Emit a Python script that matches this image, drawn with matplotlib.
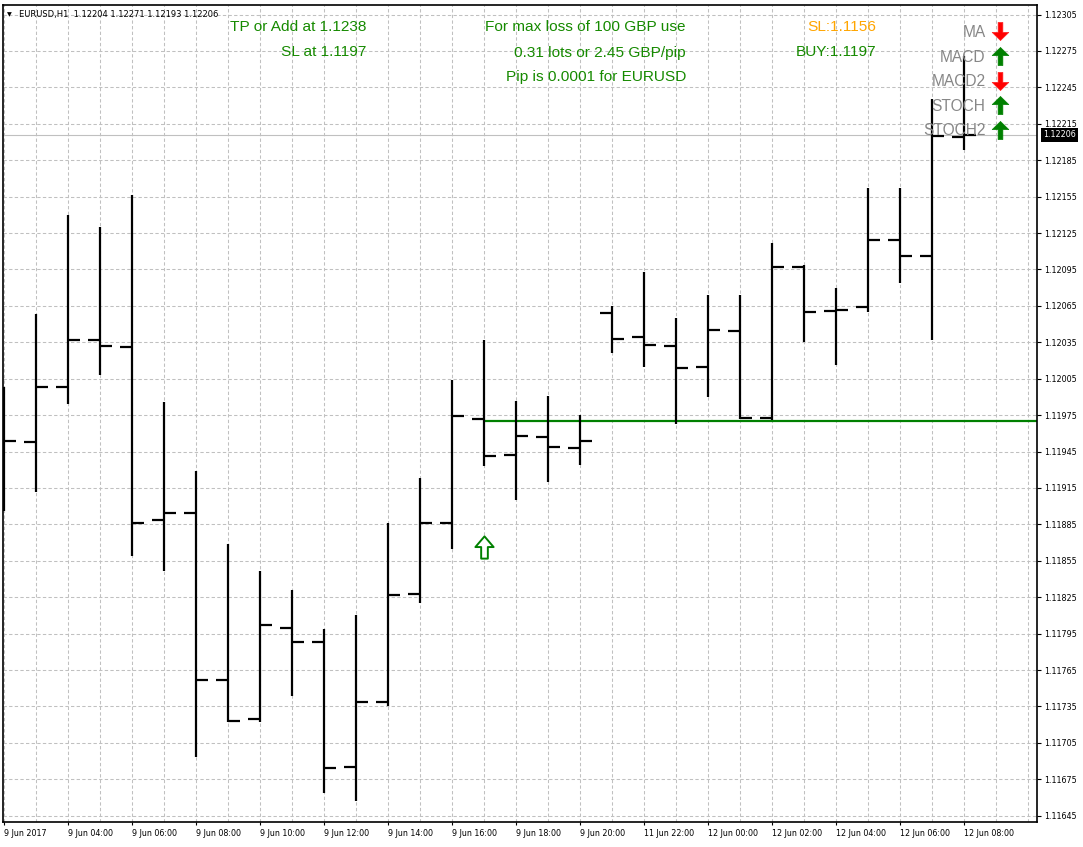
import matplotlib
matplotlib.use("Agg")
import matplotlib.pyplot as plt
import numpy as np
from matplotlib.path import Path
from matplotlib.lines import Line2D

# ---------------- data ----------------
symbol = "EURUSD,H1"
opens = [1.11960, 1.11953, 1.11998, 1.12037, 1.12031, 1.11889, 1.11894, 1.11757,
         1.11725, 1.11800, 1.11788, 1.11685, 1.11739, 1.11828, 1.11886, 1.11972,
         1.11942, 1.11957, 1.11948, 1.12059, 1.12039, 1.12032, 1.12015, 1.12044,
         1.11973, 1.12097, 1.12061, 1.12064, 1.12119, 1.12106, 1.12204]
highs = [1.11998, 1.12058, 1.12140, 1.12130, 1.12156, 1.11986, 1.11929, 1.11869,
         1.11847, 1.11831, 1.11799, 1.11810, 1.11886, 1.11923, 1.12004, 1.12037,
         1.11987, 1.11991, 1.11975, 1.12065, 1.12093, 1.12055, 1.12074, 1.12074,
         1.12117, 1.12099, 1.12080, 1.12162, 1.12162, 1.12235, 1.12271]
lows = [1.11896, 1.11912, 1.11984, 1.12008, 1.11859, 1.11847, 1.11693, 1.11722,
        1.11722, 1.11744, 1.11664, 1.11657, 1.11735, 1.11820, 1.11865, 1.11933,
        1.11905, 1.11920, 1.11934, 1.12026, 1.12015, 1.11968, 1.11990, 1.11972,
        1.11971, 1.12035, 1.12016, 1.12060, 1.12084, 1.12037, 1.12193]
closes = [1.11954, 1.11998, 1.12037, 1.12032, 1.11886, 1.11894, 1.11757, 1.11723,
          1.11802, 1.11788, 1.11684, 1.11739, 1.11827, 1.11886, 1.11974, 1.11941,
          1.11958, 1.11949, 1.11954, 1.12038, 1.12033, 1.12014, 1.12045, 1.11973,
          1.12097, 1.12060, 1.12062, 1.12119, 1.12106, 1.12205, 1.12206]

time_labels = ["9 Jun 2017", "9 Jun 04:00", "9 Jun 06:00", "9 Jun 08:00",
               "9 Jun 10:00", "9 Jun 12:00", "9 Jun 14:00", "9 Jun 16:00",
               "9 Jun 18:00", "9 Jun 20:00", "11 Jun 22:00", "12 Jun 00:00",
               "12 Jun 02:00", "12 Jun 04:00", "12 Jun 06:00", "12 Jun 08:00"]
time_label_bars = [0, 2, 4, 6, 8, 10, 12, 14, 16, 18, 20, 22, 24, 26, 28, 30]

price_ticks = [1.11645, 1.11675, 1.11705, 1.11735, 1.11765, 1.11795, 1.11825,
               1.11855, 1.11885, 1.11915, 1.11945, 1.11975, 1.12005, 1.12035,
               1.12065, 1.12095, 1.12125, 1.12155, 1.12185, 1.12215, 1.12245,
               1.12275, 1.12305]

sl_price = 1.1197
signal_bar = 15
signal_price = 1.11866
current_price = closes[-1]

info_left = ["TP or Add at 1.1238", "SL at 1.1197"]
info_mid = ["For max loss of 100 GBP use", "0.31 lots or 2.45 GBP/pip",
            "Pip is 0.0001 for EURUSD"]
info_right = [("SL:1.1156", "#FFA500"), ("BUY:1.1197", "#168a00")]
indicators = ["MA", "MACD", "MACD2", "STOCH", "STOCH2"]
indicator_up = [False, True, False, True, True]

# ---------------- layout helpers ----------------
W, H = 1083, 847
def fx(px):
    return px / W
def fy(py):
    return 1 - py / H

fig = plt.figure(figsize=(W / 100, H / 100), dpi=100)
fig.patch.set_facecolor("white")
ax = fig.add_axes([fx(3), fy(822), (1037 - 3) / W, (822 - 5) / H])
ax.set_facecolor("white")

x = np.arange(len(opens))
ax.set_xlim(-0.031, 32.28)
ax.set_ylim(1.1163985, 1.1231283)

grid_kw = dict(color="#c0c0c0", linestyle=(0, (3.2, 2.2)), linewidth=0.75)
ax.set_xticks(time_label_bars)
ax.set_xticks(np.arange(0, 33), minor=True)
ax.set_xticklabels(time_labels)
ax.grid(True, which="both", axis="x", **grid_kw)
ax.set_yticks(price_ticks)
ax.set_yticklabels([f"{v:.5f}" for v in price_ticks])
ax.grid(True, which="major", axis="y", **grid_kw)
ax.set_axisbelow(True)

ax.yaxis.tick_right()
ax.tick_params(axis="y", which="major", direction="out", length=3, width=0.8,
               pad=2, labelsize=5.8, colors="black")
ax.tick_params(axis="x", which="major", direction="out", length=2.5, width=0.8,
               pad=2.5, labelsize=5.8, colors="black")
ax.tick_params(axis="x", which="minor", length=0)
for lab in ax.get_xticklabels():
    lab.set_horizontalalignment("left")
for sp in ax.spines.values():
    sp.set_color("black")
    sp.set_linewidth(1.2)

# current price line
ax.axhline(current_price, color="#c0c0c0", linewidth=0.8, zorder=1)

# OHLC bars
tick_len = 0.375
ax.vlines(x, lows, highs, colors="black", linewidth=1.6, zorder=3)
ax.hlines(opens, x - tick_len, x, colors="black", linewidth=1.6, zorder=3)
ax.hlines(closes, x, x + tick_len, colors="black", linewidth=1.6, zorder=3)

# stop-loss line from the signal bar
ax.hlines(sl_price, signal_bar, ax.get_xlim()[1], colors="#008000",
          linewidth=1.6, zorder=2)

# hollow buy arrow
hollow = Path([(-0.15, -0.5), (0.15, -0.5), (0.15, 0.02), (0.41, 0.02),
               (0.0, 0.5), (-0.41, 0.02), (-0.15, 0.02), (-0.15, -0.5)],
              [Path.MOVETO] + [Path.LINETO] * 6 + [Path.CLOSEPOLY])
ax.plot([signal_bar], [signal_price], marker=hollow, markersize=16,
        markerfacecolor="white", markeredgecolor="#008000",
        markeredgewidth=1.4, linestyle="none", zorder=4)

# current price box
ax.text(1.0 + 6 / 1034, current_price, f"{current_price:.5f}",
        transform=ax.get_yaxis_transform(), ha="left", va="center",
        fontsize=5.8, color="white",
        bbox=dict(boxstyle="square,pad=0.3", fc="black", ec="none"),
        zorder=10, clip_on=False)

# header
fig.text(fx(7), fy(16.5), "\u25bc", fontsize=4.5, color="black", va="baseline")
fig.text(fx(19), fy(17), f"{symbol}  {opens[-1]:.5f} {highs[-1]:.5f} "
         f"{lows[-1]:.5f} {closes[-1]:.5f}", fontsize=6, color="black",
         va="baseline")

# info texts
green = "#168a00"
font = "Liberation Sans"
for txt, base in zip(info_left, [31, 56.5]):
    fig.text(fx(366.5), fy(base), txt, ha="right", va="baseline",
             fontsize=11.1, color=green, family=font)
for txt, base in zip(info_mid, [31, 56.5, 81]):
    fig.text(fx(686), fy(base), txt, ha="right", va="baseline",
             fontsize=11.1, color=green, family=font)
for (txt, col), base in zip(info_right, [31, 56.5]):
    fig.text(fx(876), fy(base), txt, ha="right", va="baseline",
             fontsize=11.1, color=col, family=font)

# indicator panel
up_arrow = Path([(-0.13, -0.5), (0.13, -0.5), (0.13, 0.05), (0.46, 0.05),
                 (0.0, 0.5), (-0.46, 0.05), (-0.13, 0.05), (-0.13, -0.5)],
                [Path.MOVETO] + [Path.LINETO] * 6 + [Path.CLOSEPOLY])
down_arrow = Path(np.array(up_arrow.vertices) * np.array([1, -1]), up_arrow.codes)
for k, (name, up) in enumerate(zip(indicators, indicator_up)):
    base = 37 + 24.6 * k
    fig.text(fx(985.5), fy(base), name, ha="right", va="baseline",
             fontsize=11.2, color="#878787", family=font)
    fig.add_artist(Line2D([fx(999.5)], [fy(base - 5.5)], transform=fig.transFigure,
                          marker=up_arrow if up else down_arrow, markersize=13,
                          markerfacecolor="#008000" if up else "#ff0000",
                          markeredgecolor="#008000" if up else "#ff2020",
                          markeredgewidth=0.5, linestyle="none"))

fig.savefig("out.png", dpi=100, facecolor="white")
